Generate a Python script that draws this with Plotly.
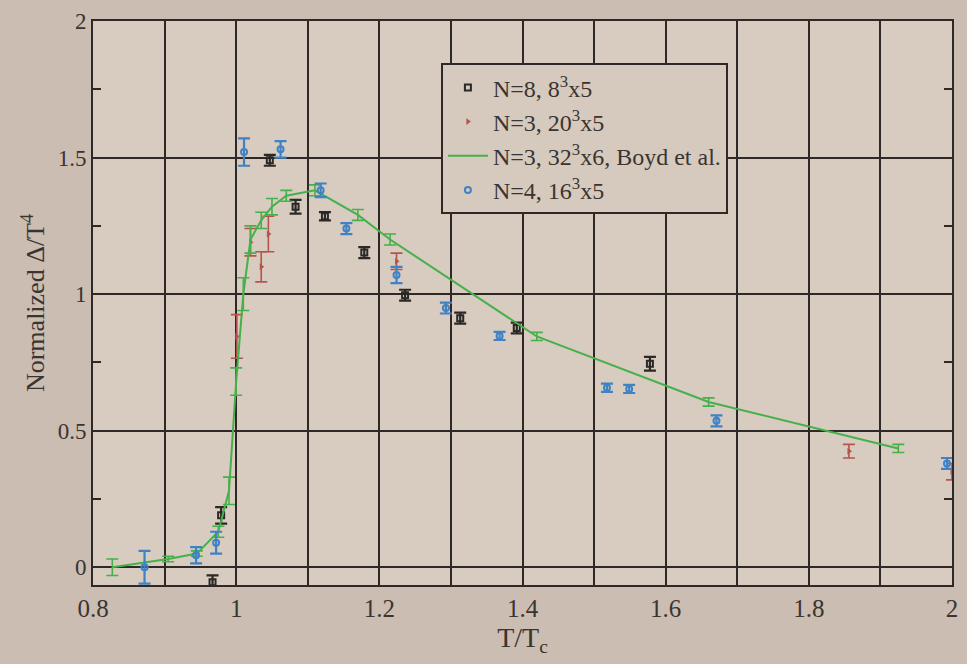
import plotly.graph_objects as go

# N=8, 8^3x5 (black squares)
n8_x = [0.967, 0.979, 1.047, 1.083, 1.124, 1.179, 1.236, 1.313, 1.392, 1.578]
n8_y = [-0.055, 0.19, 1.49, 1.32, 1.285, 1.152, 0.996, 0.912, 0.876, 0.745]
n8_e = [0.025, 0.03, 0.02, 0.025, 0.015, 0.02, 0.02, 0.02, 0.02, 0.025]

# N=3, 20^3x5 (red triangles)
n3_x = [1.001, 1.020, 1.035, 1.045, 1.224, 1.856, 2.0]
n3_y = [0.845, 1.19, 1.10, 1.22, 1.12, 0.425, 0.35]
n3_e = [0.08, 0.05, 0.055, 0.065, 0.03, 0.025, 0.03]

# N=3, 32^3x6, Boyd et al. (green line)
by_x = [0.827, 0.905, 0.945, 0.975, 0.990, 1.000, 1.010, 1.020, 1.035, 1.050, 1.070, 1.110,
        1.170, 1.215, 1.420, 1.660, 1.925]
by_y = [0.0, 0.03, 0.05, 0.13, 0.28, 0.68, 1.0, 1.2, 1.27, 1.32, 1.36, 1.38,
        1.29, 1.2, 0.845, 0.605, 0.435]
by_e = [0.03, 0.01, 0.01, 0.02, 0.05, 0.05, 0.06, 0.05, 0.03, 0.03, 0.02, 0.02,
        0.02, 0.02, 0.015, 0.015, 0.015]

# N=4, 16^3x5 (blue circles)
n4_x = [0.872, 0.944, 0.972, 1.011, 1.062, 1.118, 1.154, 1.224, 1.293, 1.368, 1.518, 1.549, 1.671, 1.993]
n4_y = [0.0, 0.044, 0.09, 1.52, 1.53, 1.38, 1.24, 1.07, 0.949, 0.847, 0.657, 0.653, 0.536, 0.38]
n4_e = [0.06, 0.03, 0.04, 0.05, 0.03, 0.025, 0.02, 0.03, 0.02, 0.015, 0.015, 0.015, 0.02, 0.02]

x_ticks = [0.8, 1.0, 1.2, 1.4, 1.6, 1.8, 2.0]
x_labels = ["0.8", "1", "1.2", "1.4", "1.6", "1.8", "2"]
y_ticks = [0, 0.5, 1, 1.5, 2]
y_labels = ["0", "0.5", "1", "1.5", "2"]

black = "#2b2826"
red = "#b5544c"
green = "#46b04a"
blue = "#3f82c6"
grid = "#2e2926"
txt = "#3a3431"

fig = go.Figure()
fig.add_trace(go.Scatter(
    x=n8_x, y=n8_y, mode="markers", name="N=8, 8<sup>3</sup>x5", legendgroup="a",
    marker=dict(symbol="square-open", size=6, color=black, line=dict(width=2)),
    error_y=dict(type="data", array=n8_e, color=black, thickness=2.2, width=6)))
fig.add_trace(go.Scatter(
    x=n3_x, y=n3_y, mode="markers", name="N=3, 20<sup>3</sup>x5", legendgroup="b",
    marker=dict(symbol="triangle-right", size=6, color=red),
    error_y=dict(type="data", array=n3_e, color=red, thickness=1.6, width=6)))
fig.add_trace(go.Scatter(
    x=by_x, y=by_y, mode="lines", name="N=3, 32<sup>3</sup>x6, Boyd et al.", legendgroup="c",
    line=dict(color=green, width=2),
    error_y=dict(type="data", array=by_e, color=green, thickness=1.6, width=6)))
fig.add_trace(go.Scatter(
    x=n4_x, y=n4_y, mode="markers", name="N=4, 16<sup>3</sup>x5", legendgroup="d",
    marker=dict(symbol="circle-open", size=6, color=blue, line=dict(width=2)),
    error_y=dict(type="data", array=n4_e, color=blue, thickness=2.2, width=6)))

font = "Liberation Serif"
fig.update_layout(
    width=967, height=664,
    margin=dict(l=93, r=9, t=18, b=79),
    paper_bgcolor="#cbbdb1",
    plot_bgcolor="#d8cbbf",
    font=dict(family=font, size=22, color=txt),
    showlegend=True,
    legend=dict(x=0.405, y=0.925, xanchor="left", yanchor="top",
                bgcolor="#d6c9bd", bordercolor=grid, borderwidth=2,
                font=dict(family=font, size=24, color=txt),
                tracegroupgap=0, itemwidth=40),
    xaxis=dict(range=[0.8, 2.0], tickvals=x_ticks, ticktext=x_labels,
               tickfont=dict(family=font, size=25, color=txt),
               showgrid=True, gridcolor=grid, gridwidth=2,
               minor=dict(dtick=0.1, tick0=0.8, showgrid=True, gridcolor=grid, gridwidth=2),
               showline=True, linecolor=grid, linewidth=2, mirror=True,
               ticks="", zeroline=False,
               title=dict(text="T/T<sub>c</sub>", font=dict(family=font, size=28, color=txt), standoff=0)),
    yaxis=dict(range=[-0.065, 2.0], tickvals=y_ticks, ticktext=y_labels,
               tickfont=dict(family=font, size=23, color=txt),
               showgrid=True, gridcolor=grid, gridwidth=2,
               minor=dict(tickvals=[0.25, 0.75, 1.25, 1.75], ticks="inside", ticklen=8,
                          tickcolor=grid, tickwidth=2, showgrid=False),
               showline=True, linecolor=grid, linewidth=2, mirror="ticks",
               ticks="", zeroline=True, zerolinecolor=grid, zerolinewidth=2,
               title=dict(text="Normalized Δ/T<sup>4</sup>", font=dict(family=font, size=26, color=txt), standoff=6)),
)

fig.write_html("out.html")
